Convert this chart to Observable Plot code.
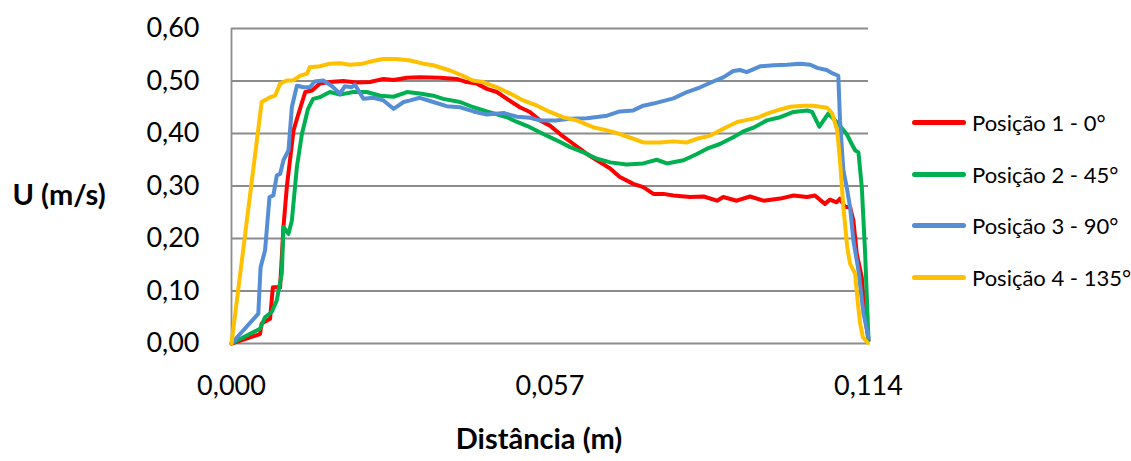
<!DOCTYPE html>
<html><head><meta charset="utf-8">
<script src="https://cdn.jsdelivr.net/npm/d3@7"></script>
<script src="https://cdn.jsdelivr.net/npm/@observablehq/plot@0.6"></script>
<style>
body{margin:0;background:#fff;font-family:Lato,"Liberation Sans",sans-serif;}
#wrap{position:relative;width:1131px;height:461px;overflow:hidden;}
#legend{position:absolute;left:912px;top:97px;font-size:22px;color:#000;white-space:nowrap;width:219px;}
.item{display:flex;align-items:center;height:51.5px;white-space:nowrap;}
.sw{flex:none;width:54px;height:5px;border-radius:3px;margin-right:6px;}
</style></head>
<body><div id="wrap"><div id="legend"></div></div>
<script>
const seriesNames = ["Posição 1 - 0°","Posição 2 - 45°","Posição 3 - 90°","Posição 4 - 135°"];
const seriesColors = ["#FF0000","#00B050","#558ED5","#FFC000"];
const xTicks = [0, 0.057, 0.114];
const yTicks = [0,0.1,0.2,0.3,0.4,0.5,0.6];

const pos1 = [[0,0],[0.0051,0.018],[0.0054,0.038],[0.0069,0.047],[0.0074,0.107],[0.0087,0.107],[0.0093,0.222],[0.0099,0.298],[0.0111,0.406],[0.0120,0.438],[0.0132,0.479],[0.0144,0.482],[0.0158,0.495],[0.0176,0.498],[0.0200,0.500],[0.0224,0.497],[0.0248,0.498],[0.0272,0.504],[0.0290,0.502],[0.0314,0.506],[0.0337,0.507],[0.0373,0.506],[0.0403,0.504],[0.0421,0.498],[0.0439,0.495],[0.0457,0.485],[0.0475,0.479],[0.0493,0.466],[0.0516,0.450],[0.0534,0.441],[0.0552,0.425],[0.0570,0.415],[0.0588,0.399],[0.0612,0.380],[0.0636,0.361],[0.0654,0.349],[0.0678,0.333],[0.0695,0.317],[0.0719,0.304],[0.0737,0.298],[0.0755,0.285],[0.0773,0.285],[0.0791,0.282],[0.0821,0.279],[0.0845,0.280],[0.0869,0.272],[0.0880,0.279],[0.0904,0.272],[0.0928,0.280],[0.0952,0.272],[0.0982,0.276],[0.1006,0.282],[0.1030,0.279],[0.1044,0.282],[0.1062,0.266],[0.1071,0.274],[0.1083,0.269],[0.1089,0.276],[0.1098,0.260],[0.1107,0.260],[0.1113,0.234],[0.1119,0.171],[0.1128,0.126],[0.1134,0.050],[0.1140,0.006]];
const pos2 = [[0,0],[0.0051,0.028],[0.0060,0.050],[0.0072,0.060],[0.0081,0.082],[0.0090,0.133],[0.0093,0.222],[0.0102,0.209],[0.0108,0.234],[0.0117,0.336],[0.0126,0.399],[0.0137,0.447],[0.0146,0.466],[0.0158,0.469],[0.0176,0.479],[0.0194,0.474],[0.0218,0.479],[0.0242,0.479],[0.0266,0.472],[0.0290,0.470],[0.0314,0.479],[0.0337,0.476],[0.0361,0.472],[0.0379,0.466],[0.0409,0.460],[0.0433,0.450],[0.0457,0.442],[0.0493,0.431],[0.0511,0.422],[0.0534,0.412],[0.0558,0.399],[0.0582,0.387],[0.0606,0.374],[0.0630,0.364],[0.0654,0.352],[0.0678,0.345],[0.0707,0.341],[0.0737,0.343],[0.0761,0.350],[0.0779,0.343],[0.0809,0.349],[0.0833,0.361],[0.0851,0.371],[0.0874,0.380],[0.0898,0.393],[0.0916,0.404],[0.0934,0.411],[0.0958,0.425],[0.0982,0.431],[0.1006,0.441],[0.1030,0.444],[0.1039,0.441],[0.1052,0.413],[0.1068,0.438],[0.1083,0.422],[0.1101,0.399],[0.1110,0.380],[0.1116,0.368],[0.1122,0.364],[0.1128,0.298],[0.1134,0.171],[0.1140,0.006]];
const pos3 = [[0,0],[0.0048,0.057],[0.0052,0.145],[0.0060,0.177],[0.0068,0.279],[0.0075,0.282],[0.0081,0.320],[0.0087,0.323],[0.0093,0.349],[0.0102,0.368],[0.0108,0.450],[0.0117,0.491],[0.0129,0.488],[0.0140,0.488],[0.0149,0.499],[0.0164,0.501],[0.0179,0.491],[0.0194,0.476],[0.0203,0.490],[0.0215,0.488],[0.0221,0.493],[0.0236,0.466],[0.0254,0.468],[0.0272,0.463],[0.0290,0.447],[0.0308,0.460],[0.0320,0.463],[0.0337,0.468],[0.0361,0.460],[0.0385,0.452],[0.0409,0.450],[0.0433,0.442],[0.0457,0.436],[0.0487,0.439],[0.0511,0.432],[0.0534,0.430],[0.0552,0.425],[0.0582,0.425],[0.0606,0.428],[0.0636,0.429],[0.0672,0.434],[0.0695,0.442],[0.0719,0.444],[0.0737,0.453],[0.0755,0.457],[0.0791,0.467],[0.0815,0.479],[0.0839,0.488],[0.0862,0.499],[0.0880,0.507],[0.0898,0.519],[0.0910,0.521],[0.0922,0.517],[0.0946,0.528],[0.0970,0.530],[0.0994,0.531],[0.1018,0.533],[0.1036,0.531],[0.1048,0.525],[0.1065,0.521],[0.1077,0.514],[0.1086,0.510],[0.1089,0.425],[0.1095,0.330],[0.1101,0.298],[0.1107,0.260],[0.1113,0.196],[0.1122,0.139],[0.1131,0.057],[0.1140,0.012]];
const pos4 = [[0,0],[0.0054,0.460],[0.0069,0.469],[0.0078,0.472],[0.0087,0.495],[0.0099,0.501],[0.0110,0.501],[0.0123,0.510],[0.0135,0.514],[0.0140,0.526],[0.0158,0.528],[0.0176,0.533],[0.0194,0.534],[0.0212,0.531],[0.0235,0.533],[0.0253,0.538],[0.0271,0.542],[0.0296,0.542],[0.0320,0.539],[0.0343,0.533],[0.0361,0.530],[0.0391,0.520],[0.0414,0.510],[0.0432,0.501],[0.0450,0.498],[0.0475,0.488],[0.0499,0.476],[0.0522,0.463],[0.0547,0.453],[0.0570,0.441],[0.0593,0.431],[0.0618,0.425],[0.0647,0.412],[0.0672,0.406],[0.0695,0.399],[0.0719,0.390],[0.0737,0.383],[0.0767,0.383],[0.0790,0.385],[0.0815,0.383],[0.0833,0.390],[0.0857,0.396],[0.0880,0.409],[0.0905,0.422],[0.0923,0.426],[0.0941,0.430],[0.0959,0.438],[0.0976,0.444],[0.1000,0.451],[0.1023,0.453],[0.1041,0.453],[0.1066,0.449],[0.1075,0.438],[0.1084,0.406],[0.1089,0.349],[0.1095,0.260],[0.1102,0.183],[0.1107,0.152],[0.1116,0.133],[0.1121,0.076],[0.1125,0.038],[0.1130,0.012],[0.1139,0.001]];

const allSeries = [pos1,pos2,pos3,pos4];
const rows = allSeries.flatMap((s,i)=>s.map(([x,y])=>({x,y,series:seriesNames[i]})));
const fmt = (d,n)=>d.toFixed(n).replace(".",",");
const font = "Lato, 'Liberation Sans', sans-serif";

const chart = Plot.plot({
  width:1131, height:461,
  marginLeft:231, marginRight:263, marginTop:28, marginBottom:118,
  style:{fontFamily:font, fontSize:"27px", color:"#000", background:"#fff", overflow:"visible"},
  x:{domain:[0,0.114], ticks:xTicks, tickFormat:d=>fmt(d,3), tickSize:0, tickPadding:32, label:null},
  y:{domain:[0,0.6], ticks:yTicks, tickFormat:d=>fmt(d,2), tickSize:0, tickPadding:32, label:null},
  color:{domain:seriesNames, range:seriesColors},
  marks:[
    Plot.ruleY(yTicks,{stroke:"#8c8c8c", strokeWidth:1.8}),
    Plot.ruleX([0],{stroke:"#8c8c8c", strokeWidth:1.8}),
    Plot.line(rows,{x:"x", y:"y", z:"series", stroke:"series", strokeWidth:4, strokeLinejoin:"round", strokeLinecap:"round"}),
    Plot.text(["U (m/s)"],{frameAnchor:"left", dx:-219, dy:9.5, textAnchor:"start", fontWeight:"bold", fontSize:29, fill:"#000"}),
    Plot.text(["Distância (m)"],{frameAnchor:"bottom", dx:-11, dy:105, fontWeight:"bold", fontSize:29, fill:"#000"})
  ]
});
document.getElementById("wrap").prepend(chart);
const lg = document.getElementById("legend");
seriesNames.forEach((n,i)=>{
  const d=document.createElement("div"); d.className="item";
  d.innerHTML=`<span class="sw" style="background:${seriesColors[i]}"></span><span>${n}</span>`;
  lg.appendChild(d);
});
</script></body></html>
